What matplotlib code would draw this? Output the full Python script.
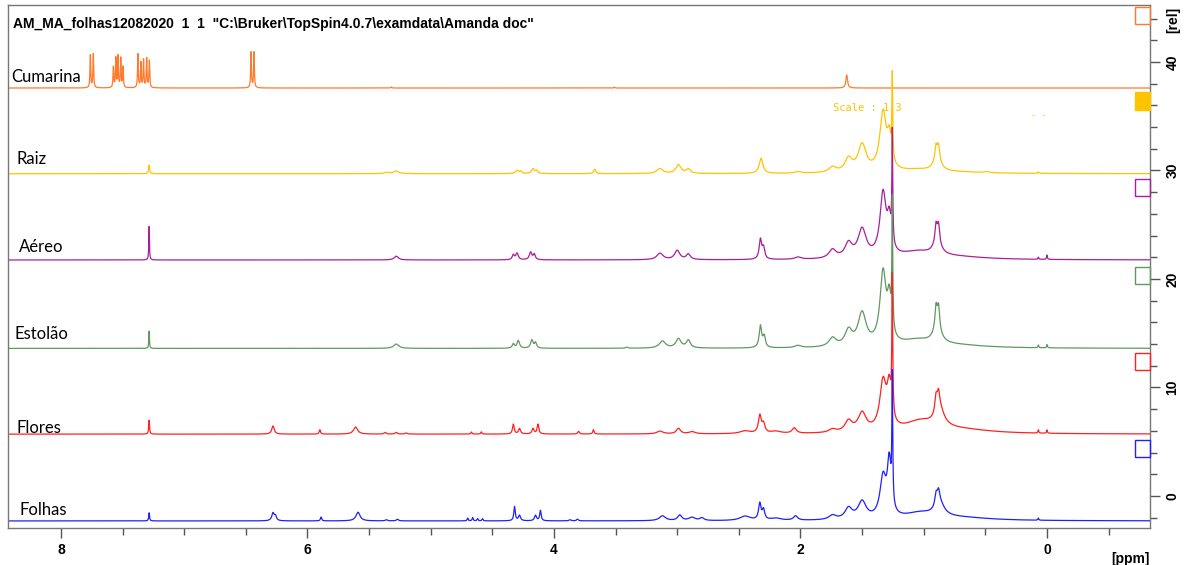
import numpy as np
import matplotlib
matplotlib.use("Agg")
import matplotlib.pyplot as plt
from matplotlib.patches import Rectangle

# spectrum names, colours and baseline offsets (rel units)
names = ["Cumarina", "Raiz", "Aéreo", "Estolão", "Flores", "Folhas"]
colors = ["#ff7a2a", "#ffc400", "#aa1e9b", "#5f9960", "#ff2020", "#1f1fff"]
offsets = [37.6, 29.7, 21.75, 13.6, 5.7, -2.3]

# peak lists: (ppm, height in rel, half width in ppm)
cumarina = [(7.762, 3.0, 0.0035), (7.738, 3.1, 0.0035),
            (7.575, 1.9, 0.0035), (7.555, 2.7, 0.0035), (7.537, 2.9, 0.0035),
            (7.515, 2.7, 0.0035), (7.497, 1.9, 0.0035),
            (7.376, 3.1, 0.0035), (7.352, 2.3, 0.0035), (7.330, 2.6, 0.0035),
            (7.305, 2.7, 0.0035), (7.283, 2.5, 0.0035),
            (6.458, 3.3, 0.0035), (6.434, 3.3, 0.0035),
            (5.32, 0.1, 0.004), (3.51, 0.08, 0.004), (1.625, 1.2, 0.008)]

raiz = [(7.285, 0.8, 0.005),
        (5.36, 0.12, 0.02), (5.28, 0.25, 0.025),
        (4.30, 0.3, 0.015), (4.27, 0.2, 0.01), (4.17, 0.45, 0.015), (4.14, 0.25, 0.01),
        (3.67, 0.4, 0.01),
        (3.14, 0.45, 0.03), (2.99, 0.8, 0.025), (2.91, 0.4, 0.02),
        (2.32, 1.4, 0.018), (2.02, 0.15, 0.03),
        (1.74, 0.5, 0.035), (1.61, 1.2, 0.035), (1.50, 2.5, 0.04),
        (1.33, 5.4, 0.032), (1.28, 2.5, 0.018), (1.255, 7.6, 0.004),
        (1.05, 0.25, 0.15), (0.90, 1.2, 0.01), (0.88, 1.2, 0.01), (0.89, 1.2, 0.035),
        (0.75, 0.12, 0.3), (0.49, 0.1, 0.02), (0.07, 0.15, 0.004)]

aereo = [(7.285, 3.1, 0.003),
         (5.28, 0.35, 0.02),
         (4.33, 0.45, 0.01), (4.30, 0.6, 0.012), (4.19, 0.7, 0.012), (4.16, 0.5, 0.01),
         (3.14, 0.6, 0.03), (3.00, 0.85, 0.025), (2.91, 0.5, 0.02),
         (2.325, 1.8, 0.012), (2.30, 1.0, 0.012), (2.02, 0.2, 0.03),
         (1.74, 0.8, 0.035), (1.61, 1.3, 0.035), (1.50, 2.6, 0.04),
         (1.33, 5.8, 0.03), (1.28, 2.8, 0.018), (1.255, 10.1, 0.004),
         (1.05, 0.6, 0.15), (0.90, 1.5, 0.01), (0.88, 1.5, 0.01), (0.89, 1.3, 0.035),
         (0.75, 0.25, 0.3), (0.07, 0.2, 0.004), (0.00, 0.4, 0.004)]

estolao = [(7.285, 1.6, 0.003),
           (5.28, 0.4, 0.025),
           (4.33, 0.4, 0.01), (4.29, 0.7, 0.012), (4.18, 0.75, 0.012), (4.15, 0.5, 0.01),
           (3.41, 0.1, 0.01),
           (3.12, 0.65, 0.03), (2.99, 0.85, 0.025), (2.91, 0.7, 0.02),
           (2.325, 2.0, 0.012), (2.295, 1.0, 0.012), (2.02, 0.2, 0.03),
           (1.74, 0.8, 0.035), (1.61, 1.4, 0.035), (1.50, 3.0, 0.04),
           (1.33, 6.6, 0.03), (1.28, 3.5, 0.018), (1.255, 11.7, 0.004),
           (1.05, 0.6, 0.15), (0.90, 1.8, 0.01), (0.88, 1.8, 0.01), (0.89, 1.6, 0.035),
           (0.75, 0.25, 0.3), (0.07, 0.25, 0.004), (0.00, 0.3, 0.004)]

flores = [(7.285, 1.3, 0.004),
          (6.28, 0.75, 0.012), (5.90, 0.4, 0.006), (5.61, 0.65, 0.02),
          (5.37, 0.15, 0.01), (5.28, 0.15, 0.01), (5.20, 0.1, 0.01),
          (4.67, 0.2, 0.005), (4.59, 0.2, 0.005),
          (4.33, 0.9, 0.008), (4.28, 0.5, 0.01), (4.17, 0.5, 0.01), (4.13, 0.9, 0.008),
          (3.80, 0.25, 0.008), (3.68, 0.4, 0.006),
          (3.14, 0.25, 0.03), (2.99, 0.5, 0.02), (2.88, 0.2, 0.03),
          (2.45, 0.25, 0.05), (2.33, 1.6, 0.014), (2.30, 0.8, 0.014),
          (2.20, 0.2, 0.05), (2.05, 0.5, 0.02),
          (1.74, 0.3, 0.035), (1.61, 1.0, 0.035), (1.50, 1.7, 0.04),
          (1.33, 4.4, 0.032), (1.28, 3.5, 0.02), (1.255, 12.4, 0.004),
          (1.03, 1.0, 0.15), (0.90, 1.5, 0.012), (0.88, 1.5, 0.012), (0.87, 1.6, 0.045),
          (0.70, 0.35, 0.3), (0.07, 0.3, 0.004), (0.00, 0.3, 0.004)]

folhas = [(7.285, 0.75, 0.004),
          (6.28, 0.7, 0.012), (6.26, 0.4, 0.01), (5.89, 0.35, 0.006), (5.59, 0.8, 0.02),
          (5.36, 0.1, 0.01), (5.27, 0.15, 0.01),
          (4.70, 0.25, 0.005), (4.66, 0.3, 0.005), (4.62, 0.2, 0.005), (4.58, 0.2, 0.005),
          (4.32, 1.3, 0.007), (4.28, 0.5, 0.01), (4.15, 0.5, 0.01), (4.11, 0.95, 0.007),
          (3.87, 0.1, 0.01), (3.81, 0.15, 0.008),
          (3.12, 0.45, 0.03), (2.98, 0.5, 0.02), (2.88, 0.3, 0.03), (2.80, 0.25, 0.02),
          (2.45, 0.4, 0.05), (2.33, 1.5, 0.012), (2.30, 0.9, 0.012),
          (2.20, 0.2, 0.05), (2.04, 0.4, 0.02),
          (1.74, 0.4, 0.035), (1.61, 1.0, 0.035), (1.50, 1.6, 0.04),
          (1.33, 3.7, 0.03), (1.28, 4.8, 0.018), (1.255, 11.5, 0.004),
          (1.03, 0.6, 0.15), (0.90, 1.1, 0.012), (0.88, 1.1, 0.012), (0.87, 1.2, 0.045),
          (0.70, 0.25, 0.3), (0.07, 0.2, 0.004)]

peak_lists = [cumarina, raiz, aereo, estolao, flores, folhas]

title = 'AM_MA_folhas12082020  1  1  "C:\\Bruker\\TopSpin4.0.7\\examdata\\Amanda doc"'
xticks = [8, 6, 4, 2, 0]
yticks = [0, 10, 20, 30, 40]

# label placement above each baseline (rel) and left position (ppm)
label_dy = [0.3, 0.6, 0.5, 0.6, -0.2, 0.3]
label_x = [8.40, 8.36, 8.34, 8.38, 8.36, 8.34]

x0, x1 = 8.43, -0.836
ppm = np.linspace(x0, x1, 12000)


def spectrum(peaks):
    y = np.zeros_like(ppm)
    for c, h, w in peaks:
        y += h / (1 + ((ppm - c) / w) ** 2)
    return y


fig = plt.figure(figsize=(11.86, 5.65), dpi=100)
ax = fig.add_axes([8 / 1186, 1 - 528 / 565, 1142 / 1186, 523 / 565])

for name, col, off, peaks, dy, lx in zip(names, colors, offsets, peak_lists,
                                          label_dy, label_x):
    ax.plot(ppm, spectrum(peaks) + off, color=col, lw=0.9)
    ax.text(lx, off + dy, name, fontsize=12, family="Lato", color="black",
            va="bottom", ha="left")
    filled = name == "Raiz"
    ax.add_patch(Rectangle((x1 + 0.122, off + 5.9), -0.122, 1.6,
                           facecolor=col if filled else "none",
                           edgecolor=col, lw=1.0, clip_on=False, zorder=5))

ax.set_xlim(x0, x1)
ax.set_ylim(-2.95, 45.25)

ax.text(1.736, 35.76, "Scale : 1.3", color="#ffc400", fontsize=7.5,
        family="DejaVu Sans Mono", va="center")
ax.text(0.07, 35.1, "- -", color="#ffc400", fontsize=6,
        family="DejaVu Sans Mono", va="center", ha="center")

ax.text(0.004, 0.978, title, transform=ax.transAxes, fontsize=10,
        family="Liberation Sans", weight="bold", va="top", ha="left")

# axes styling (Bruker-like)
for s in ax.spines.values():
    s.set_color("#777777")
    s.set_linewidth(1.0)

ax.set_xticks(xticks)
ax.set_xticks(np.arange(8.0, -0.6, -0.5), minor=True)
ax.set_xticklabels([str(t) for t in xticks], fontsize=10,
                   family="Liberation Sans", weight="bold")
ax.tick_params(axis="x", which="major", direction="out", length=7, width=1,
               color="#555555", pad=4)
ax.tick_params(axis="x", which="minor", direction="out", length=5, width=1,
               color="#555555")

ax.yaxis.tick_right()
ax.set_yticks(yticks)
ax.set_yticks(np.arange(-2, 45, 2), minor=True)
ax.set_yticklabels([str(t) for t in yticks], fontsize=10,
                   family="Liberation Sans", weight="bold", rotation=90,
                   va="center")
ax.tick_params(axis="y", which="major", direction="out", length=7, width=1,
               color="#555555", pad=4)
ax.tick_params(axis="y", which="minor", direction="out", length=5, width=1,
               color="#555555")

ax.text(1.0145, 0.996, "[rel]", transform=ax.transAxes, rotation=90,
        fontsize=10, family="Liberation Sans", weight="bold",
        va="top", ha="left")
ax.text(0.983, -0.045, "[ppm]", transform=ax.transAxes, fontsize=10,
        family="Liberation Sans", weight="bold", va="top", ha="center")

fig.savefig("out.png", dpi=100)
